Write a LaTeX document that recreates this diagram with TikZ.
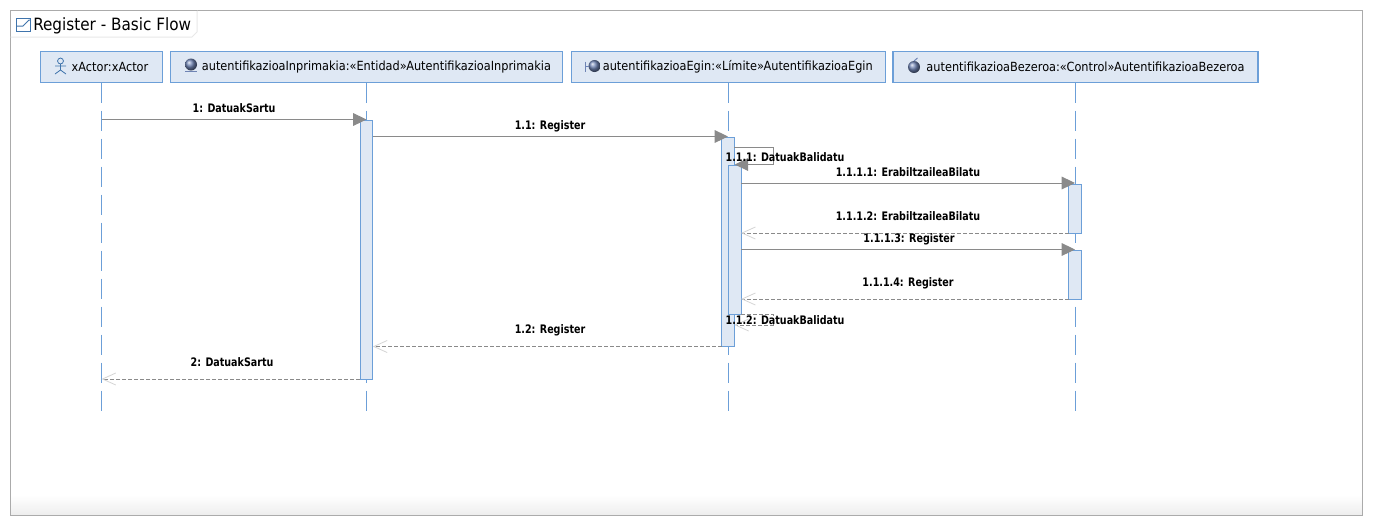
\documentclass[tikz,border=0pt]{standalone}
\usepackage{fontspec}
\setmainfont{DejaVu Sans Condensed}
\usetikzlibrary{arrows.meta}

\definecolor{frame-gray}{HTML}{ABABAB}
\definecolor{tab-gray}{HTML}{E8E8E8}
\definecolor{box-fill}{HTML}{DFE8F4}
\definecolor{box-line}{HTML}{6C9FD8}
\definecolor{msg-gray}{HTML}{8A8A8A}
\definecolor{tip-gray}{HTML}{D4D4D4}
\definecolor{icon-blue}{HTML}{3F74AC}
\definecolor{ball-blue}{HTML}{6F84B4}

\tikzstyle{head-box}=[draw=box-line, fill=box-fill, line width=0.8pt, inner sep=0pt, outer sep=0pt, minimum height=23.25pt, font=\fontsize{9.45}{11}\selectfont]
\tikzstyle{act-box}=[draw=box-line, fill=box-fill, line width=0.8pt, inner sep=0pt, outer sep=0pt, minimum width=9.5pt]
\tikzstyle{lifeline}=[draw=box-line, line width=0.75pt, dash pattern=on 15pt off 6pt]
\tikzstyle{msg-call}=[draw=msg-gray, line width=0.75pt, -{Triangle[length=10pt,width=9.5pt,fill=msg-gray]}]
\tikzstyle{msg-back}=[draw=msg-gray, line width=0.75pt, dash pattern=on 3pt off 1.5pt, -{Straight Barb[length=10pt,width=9pt,color=tip-gray,line width=0.6pt]}]
\tikzstyle{msg-label}=[inner sep=0pt, transform shape, xscale=0.904, font=\fontsize{8.8}{11}\selectfont\bfseries]

\begin{document}
\begin{tikzpicture}[x=0.75pt, y=-0.75pt]
      \useasboundingbox (0,0) rectangle (1373,526);
      % frame
      \shade [top color=white, bottom color=black!7] (10.5,495) rectangle (1362.5,515.5);
      \draw [frame-gray, line width=0.9pt] (10.5,10.5) rectangle (1362.5,515.5);
      \draw [tab-gray, line width=0.75pt, fill=white] (10.5,37) -- (192,37) -- (197,32) -- (197,10.5);
      \draw [frame-gray, line width=0.9pt] (10.5,10.5) -- (197,10.5);
      \draw [icon-blue, line width=0.75pt, fill=white] (16.5,18) rectangle (30.5,31.5);
      \draw [icon-blue, line width=0.75pt] (16.5,26) -- (23,26) -- (29,20) -- (30.5,20);
      \node (title) at (33,25.5) [anchor=west, inner sep=0pt, font=\fontsize{12.7}{14}\selectfont] {Register - Basic Flow};

      % lifeline heads
      \node (xactor) at (101.5,67) [head-box, minimum width=91.5pt] {\hspace*{12.75pt}xActor:xActor};
      \node (inprimakia) at (366.5,67) [head-box, minimum width=294pt] {\hspace*{15pt}autentifikazioaInprimakia:«Entidad»AutentifikazioaInprimakia};
      \node (egin) at (728.5,67) [head-box, minimum width=235.5pt] {\hspace*{14pt}autentifikazioaEgin:«Límite»AutentifikazioaEgin};
      \node (bezeroa) at (1075.5,67) [head-box, minimum width=273.75pt] {\hspace*{15pt}autentifikazioaBezeroa:«Control»AutentifikazioaBezeroa};

      % head icons
      \draw [icon-blue, line width=0.6pt] (60.5,61) circle [radius=2.2pt]
            (60.5,64) -- (60.5,70) (55,66) -- (66,66) (55,74) -- (60.5,70) -- (66,74);
      \shade [ball color=ball-blue] (191,64.5) circle [radius=4.5pt];
      \draw [ball-blue, line width=0.75pt] (185,71) -- (197,71);
      \shade [ball color=ball-blue] (594.5,66) circle [radius=4.5pt];
      \draw [ball-blue, line width=0.75pt] (585,61.5) -- (585,72) (585,66) -- (589,66);
      \shade [ball color=ball-blue] (914,67) circle [radius=4.5pt];
      \draw [ball-blue, line width=0.75pt] (914,61) -- (917.5,58);

      % lifelines
      \draw [lifeline] (xactor.south) -- (xactor.south |- 0,411);
      \draw [lifeline] (inprimakia.south) -- (inprimakia.south |- 0,411);
      \draw [lifeline] (egin.south) -- (egin.south |- 0,411);
      \draw [lifeline] (bezeroa.south) -- (bezeroa.south |- 0,411);

      % activations
      \node (act1) at (366.5,250) [act-box, minimum height=194pt] {};
      \node (act2) at (728,242) [act-box, minimum height=156.75pt] {};
      \node (act3) at (734.75,240) [act-box, minimum height=111.75pt] {};
      \node (act4) at (1075,209) [act-box, minimum height=37.1pt] {};
      \node (act5) at (1075,275) [act-box, minimum height=37.1pt] {};

      % messages
      \draw [msg-call] (xactor.south |- 0,119.5) -- (act1.north |- 0,119.5);
      \draw [msg-call] (act1.east |- 0,136.5) -- (act2.north |- 0,136.5);
      \draw [msg-call] (act2.east |- 0,147) -- (773,147) -- (773,164.5) -- (act3.north |- 0,164.5);
      \draw [msg-call] (act3.east |- 0,183) -- (act4.north |- 0,183);
      \draw [msg-back] (act4.west |- 0,233) -- (act3.east |- 0,233);
      \draw [msg-call] (act3.east |- 0,249.5) -- (act5.north |- 0,249.5);
      \draw [msg-back] (act5.west |- 0,299) -- (act3.east |- 0,299);
      \draw [msg-back] (act3.east |- 0,314) -- (773,314) -- (773,325) -- (act2.east |- 0,325);
      \draw [msg-back] (act2.west |- 0,346.5) -- (act1.east |- 0,346.5);
      \draw [msg-back] (act1.west |- 0,379) -- (xactor.south |- 0,379);

      % message labels
      \node (lbl1) at (234,108.5) [msg-label] {1: DatuakSartu};
      \node (lbl11) at (550,126) [msg-label] {1.1: Register};
      \node (lbl111) at (785,157.5) [msg-label] {1.1.1: DatuakBalidatu};
      \node (lbl1111) at (908,172.5) [msg-label] {1.1.1.1: ErabiltzaileaBilatu};
      \node (lbl1112) at (908,216.5) [msg-label] {1.1.1.2: ErabiltzaileaBilatu};
      \node (lbl1113) at (909,239) [msg-label] {1.1.1.3: Register};
      \node (lbl1114) at (908,283) [msg-label] {1.1.1.4: Register};
      \node (lbl112) at (785,320.5) [msg-label] {1.1.2: DatuakBalidatu};
      \node (lbl12) at (550,330) [msg-label] {1.2: Register};
      \node (lbl2) at (232,362.5) [msg-label] {2: DatuakSartu};
\end{tikzpicture}
\end{document}
